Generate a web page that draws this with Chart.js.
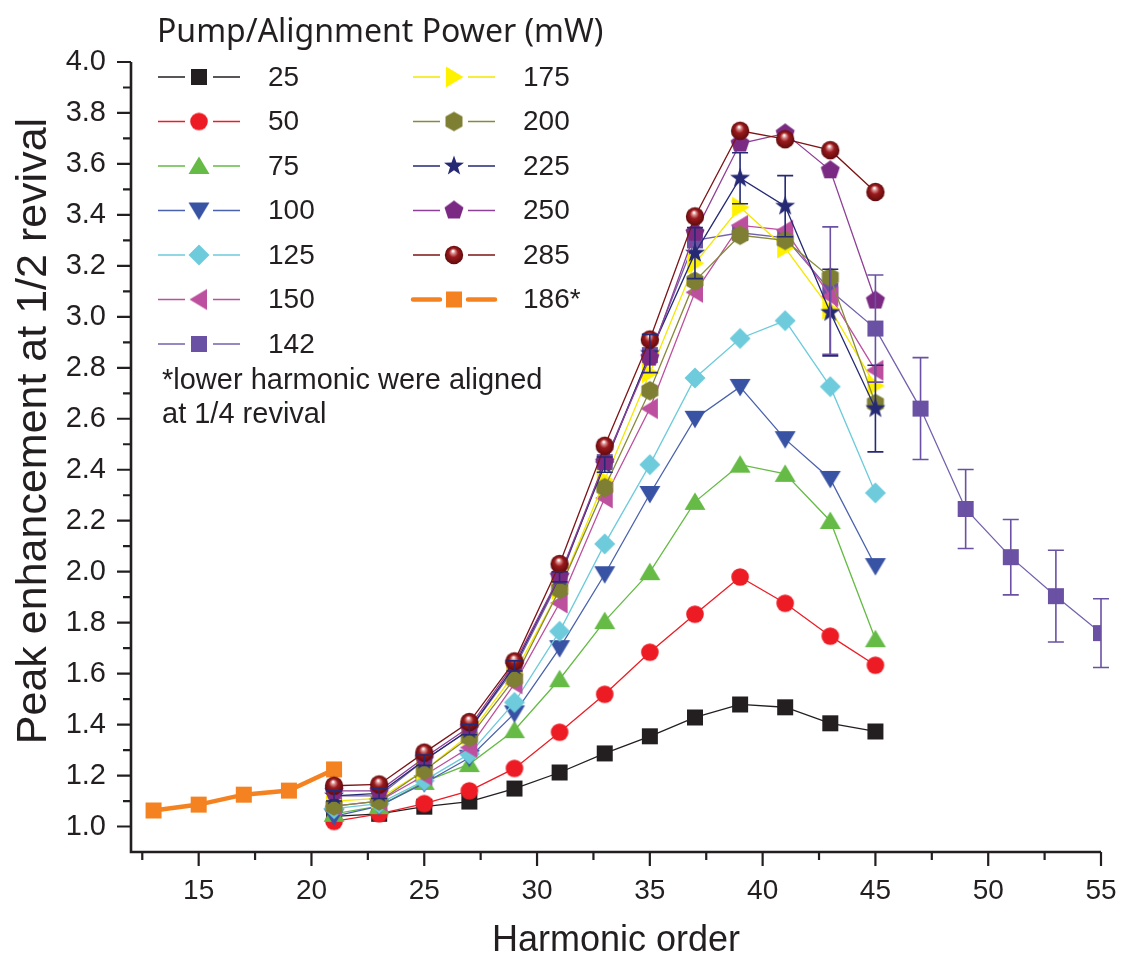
<!DOCTYPE html>
<html><head><meta charset="utf-8">
<script src="https://cdn.jsdelivr.net/npm/chart.js@4.4.1/dist/chart.umd.min.js"></script>
<style>html,body{margin:0;padding:0;background:#fff;}#wrap{width:1121px;height:959px;position:relative;}</style>
</head><body><div id="wrap"><canvas id="c" width="1121" height="959"></canvas></div>
<script>
// ---------- data ----------
const harmonics = [21,23,25,27,29,31,33,35,37,39,41,43,45];
const harmonics142 = [21,23,25,27,29,31,33,35,37,39,41,43,45,47,49,51,53,55];
const harmonics186 = [13,15,17,19,21];
const p25  = [1.04,1.05,1.078,1.098,1.149,1.212,1.287,1.354,1.428,1.479,1.468,1.405,1.373];
const p50  = [1.02,1.05,1.09,1.14,1.228,1.37,1.519,1.684,1.833,1.979,1.876,1.747,1.633];
const p75  = [1.05,1.08,1.175,1.245,1.378,1.578,1.806,1.998,2.274,2.42,2.384,2.199,1.735];
const p100 = [1.04,1.08,1.17,1.27,1.444,1.70,1.99,2.305,2.60,2.725,2.52,2.364,2.022];
const p125 = [1.07,1.09,1.18,1.285,1.487,1.766,2.109,2.42,2.76,2.915,2.985,2.726,2.309];
const p150 = [1.08,1.10,1.20,1.31,1.56,1.877,2.289,2.64,3.096,3.359,3.34,3.08,2.79];
const p142 = [1.12,1.12,1.26,1.38,1.62,1.97,2.43,2.85,3.30,3.33,3.31,3.103,2.954,2.64,2.246,2.057,1.904,1.759];
const p175 = [1.10,1.11,1.22,1.36,1.60,1.93,2.36,2.78,3.21,3.43,3.27,3.03,2.73];
const p200 = [1.08,1.10,1.22,1.35,1.58,1.93,2.33,2.71,3.14,3.32,3.30,3.155,2.66];
const p225 = [1.12,1.13,1.26,1.38,1.63,1.98,2.42,2.856,3.25,3.544,3.434,3.017,2.64];
const p250 = [1.14,1.14,1.27,1.39,1.64,1.983,2.43,2.84,3.33,3.68,3.72,3.575,3.064];
const p285 = [1.16,1.165,1.29,1.41,1.648,2.03,2.494,2.911,3.394,3.73,3.697,3.654,3.49];
const p186 = [1.063,1.086,1.125,1.141,1.224];
const err225 = [0.02,0.02,0.02,0.02,0.02,0.02,0.03,0.075,0.1,0.1,0.12,0.17,0.17];
const err142 = [0,0,0,0,0,0,0,0,0,0,0,0.25,0.21,0.2,0.155,0.148,0.18,0.135];
const xTickLabels = [15,20,25,30,35,40,45,50,55];
const yTickLabels = [1.0,1.2,1.4,1.6,1.8,2.0,2.2,2.4,2.6,2.8,3.0,3.2,3.4,3.6,3.8,4.0];
const legendTitle = 'Pump/Alignment Power (mW)';
const noteLines = ['*lower harmonic were aligned','at 1/4 revival'];
const xTitle = 'Harmonic order';
const yTitle = 'Peak enhancement at 1/2 revival';

// ---------- markers ----------
function poly(g, cx, cy, pts){ g.moveTo(cx+pts[0][0], cy+pts[0][1]); for(let i=1;i<pts.length;i++) g.lineTo(cx+pts[i][0], cy+pts[i][1]); g.closePath(); }
function regular(n, r, rot){ const a=[]; for(let k=0;k<n;k++){ const t=rot+k*2*Math.PI/n; a.push([r*Math.cos(t), r*Math.sin(t)]);} return a; }
function makeMarker(shape, fill){
  const S=26, c=document.createElement('canvas'); c.width=S; c.height=S;
  const g=c.getContext('2d'), cx=S/2, cy=S/2;
  g.fillStyle=fill; g.beginPath();
  switch(shape){
    case 'square': g.rect(cx-8,cy-8,16,16); break;
    case 'circle': g.arc(cx,cy,8.8,0,Math.PI*2); break;
    case 'up': poly(g,cx,cy,[[0,-9.5],[10.5,8],[-10.5,8]]); break;
    case 'down': poly(g,cx,cy,[[0,9.5],[10.5,-8],[-10.5,-8]]); break;
    case 'left': poly(g,cx,cy,[[-9.5,0],[8,-10.5],[8,10.5]]); break;
    case 'right': poly(g,cx,cy,[[9.5,0],[-8,-10.5],[-8,10.5]]); break;
    case 'diamond': poly(g,cx,cy,[[0,-10.5],[10.5,0],[0,10.5],[-10.5,0]]); break;
    case 'hexagon': poly(g,cx,cy,regular(6,9.8,-Math.PI/2)); break;
    case 'pentagon': poly(g,cx,cy,regular(5,10,-Math.PI/2)); break;
    case 'star': { const a=[]; for(let k=0;k<10;k++){ const r=k%2?4.2:10.5, t=-Math.PI/2+k*Math.PI/5; a.push([r*Math.cos(t), r*Math.sin(t)]);} poly(g,cx,cy,a); break; }
    case 'sphere': {
      const gr=g.createRadialGradient(cx-1,cy-4,0.5,cx,cy,9.5);
      gr.addColorStop(0,'#ffffff'); gr.addColorStop(0.18,'#d98a8a'); gr.addColorStop(0.45,'#9a1a1d'); gr.addColorStop(1,'#5e0a0c');
      g.fillStyle=gr; g.arc(cx,cy,9.2,0,Math.PI*2); break; }
  }
  g.fill();
  return c;
}

const series = [
  {label:'25',  xs:harmonics, ys:p25,  color:'#231f20', line:'#231f20', shape:'square', z:1},
  {label:'50',  xs:harmonics, ys:p50,  color:'#ed1c24', line:'#ed1c24', shape:'circle', z:2},
  {label:'75',  xs:harmonics, ys:p75,  color:'#65bb45', line:'#65bb45', shape:'up', z:3},
  {label:'100', xs:harmonics, ys:p100, color:'#3953a4', line:'#4a62ad', shape:'down', z:4},
  {label:'125', xs:harmonics, ys:p125, color:'#6dcbdc', line:'#6dcbdc', shape:'diamond', z:5},
  {label:'150', xs:harmonics, ys:p150, color:'#bd4f9f', line:'#bd4f9f', shape:'left', z:7},
  {label:'142', xs:harmonics142, ys:p142, color:'#6a51a3', line:'#7461ad', shape:'square', z:6},
  {label:'175', xs:harmonics, ys:p175, color:'#fff200', line:'#f5e800', shape:'right', z:8},
  {label:'200', xs:harmonics, ys:p200, color:'#7e7f33', line:'#878a3c', shape:'hexagon', z:9},
  {label:'225', xs:harmonics, ys:p225, color:'#262a74', line:'#262a74', shape:'star', z:10},
  {label:'250', xs:harmonics, ys:p250, color:'#7b2a83', line:'#8e3f96', shape:'pentagon', z:11},
  {label:'285', xs:harmonics, ys:p285, color:'#8a1a1c', line:'#7d1416', shape:'sphere', z:12},
  {label:'186*', xs:harmonics186, ys:p186, color:'#f58220', line:'#f58220', shape:'square', z:0, thick:true}
];
series.forEach(s => s.marker = makeMarker(s.shape, s.color));

const datasets = series.map(s => ({
  label: s.label,
  data: s.xs.map((x,i)=>({x:x, y:s.ys[i]})),
  borderColor: s.line,
  backgroundColor: s.color,
  borderWidth: s.thick ? 4.5 : 1.3,
  pointStyle: s.marker,
  pointRadius: 9,
  pointHoverRadius: 9,
  showLine: true,
  tension: 0,
  order: 20 - s.z
}));

const errorSets = [
  {xs:harmonics, ys:p225, err:err225, color:'#262a74'},
  {xs:harmonics142, ys:p142, err:err142, color:'#6a51a3'}
];

const FONT = "'Liberation Sans', Arial, Helvetica, sans-serif";
const INK = '#231f20';

const axesPlugin = {
  id:'axesPlugin',
  afterDraw(chart){
    const {ctx, chartArea:a, scales:{x,y}} = chart;
    ctx.save();
    ctx.strokeStyle=INK; ctx.lineCap='butt';
    ctx.lineWidth=2.6;
    ctx.beginPath(); ctx.moveTo(a.left, a.top); ctx.lineTo(a.left, a.bottom+1.3);
    ctx.moveTo(a.left-1.3, a.bottom); ctx.lineTo(a.right, a.bottom); ctx.stroke();
    ctx.lineWidth=2.2;
    ctx.beginPath();
    for(let k=10;k<=40;k++){ const v=k/10, py=y.getPixelForValue(v); const L = (k%2===0)?14:8; ctx.moveTo(a.left, py); ctx.lineTo(a.left-L, py); }
    for(let k=5;k<=22;k++){ const v=k*2.5, px=x.getPixelForValue(v); const L=(k%2===0)?14:8; ctx.moveTo(px, a.bottom); ctx.lineTo(px, a.bottom+L); }
    ctx.stroke();
    // y-axis title
    ctx.save();
    ctx.translate(34, 431); ctx.rotate(-Math.PI/2);
    ctx.fillStyle=INK; ctx.font = "43px " + FONT; ctx.textAlign='center'; ctx.textBaseline='middle';
    ctx.fillText(yTitle, 0, 0);
    ctx.restore();
    ctx.restore();
  }
};

const errorPlugin = {
  id:'errorPlugin',
  afterDatasetsDraw(chart){
    const {ctx, scales:{x,y}} = chart;
    ctx.save(); ctx.lineWidth=1.6;
    errorSets.forEach(es=>{
      ctx.strokeStyle=es.color; ctx.beginPath();
      es.xs.forEach((hx,i)=>{
        const e=es.err[i]; if(!e) return;
        const px=x.getPixelForValue(hx), t=y.getPixelForValue(es.ys[i]+e), b=y.getPixelForValue(es.ys[i]-e);
        ctx.moveTo(px,t); ctx.lineTo(px,b);
        ctx.moveTo(px-8,t); ctx.lineTo(px+8,t);
        ctx.moveTo(px-8,b); ctx.lineTo(px+8,b);
      });
      ctx.stroke();
    });
    ctx.restore();
  }
};

const legendPlugin = {
  id:'legendPlugin',
  afterDraw(chart){
    const ctx=chart.ctx;
    ctx.save();
    ctx.fillStyle=INK; ctx.textBaseline='alphabetic'; ctx.textAlign='left';
    ctx.font = "32px 'Noto Sans', 'Open Sans', sans-serif";
    ctx.fillText(legendTitle, 157, 42);
    const cols=[{cx:199, l1:[158,185], l2:[213,240], tx:268},{cx:454, l1:[413,440], l2:[468,495], tx:523}];
    const y0=77, dy=44.5;
    series.forEach((s,i)=>{
      const col = i<7 ? cols[0] : cols[1];
      const row = i<7 ? i : i-7;
      const cy = y0 + row*dy;
      ctx.strokeStyle=s.line; ctx.lineWidth = s.thick?4.5:1.3; ctx.lineCap = s.thick?'round':'butt';
      ctx.beginPath(); ctx.moveTo(col.l1[0],cy); ctx.lineTo(col.l1[1],cy); ctx.moveTo(col.l2[0],cy); ctx.lineTo(col.l2[1],cy); ctx.stroke();
      ctx.drawImage(s.marker, col.cx - s.marker.width/2, cy - s.marker.height/2);
      ctx.font = "28px " + FONT; ctx.textBaseline='middle';
      ctx.fillText(s.label, col.tx, cy+1);
    });
    ctx.textBaseline='alphabetic';
    ctx.font = "29px " + FONT;
    ctx.fillText(noteLines[0], 162, 389);
    ctx.fillText(noteLines[1], 162, 423);
    ctx.restore();
  }
};

new Chart(document.getElementById('c'), {
  type:'scatter',
  data:{datasets},
  plugins:[axesPlugin, errorPlugin, legendPlugin],
  options:{
    responsive:false, animation:false, devicePixelRatio:1,
    layout:{padding:{top:62, right:20, left:0, bottom:0}},
    plugins:{legend:{display:false}, tooltip:{enabled:false}},
    scales:{
      x:{type:'linear', min:12, max:55,
         afterBuildTicks: s=>{ s.ticks = xTickLabels.map(v=>({value:v})); },
         afterFit: s=>{ s.height=107; },
         grid:{display:true, drawOnChartArea:false, drawTicks:true, tickLength:22, color:'rgba(0,0,0,0)'}, border:{display:false},
         ticks:{padding:0, color:INK, font:{family:FONT, size:28}, maxRotation:0, autoSkip:false, callback:v=>String(v)},
         title:{display:true, text:xTitle, color:INK, font:{family:FONT, size:36, lineHeight:1}, padding:{top:0,bottom:0}}
      },
      y:{type:'linear', min:0.9, max:4.0,
         afterBuildTicks: s=>{ s.ticks = yTickLabels.map(v=>({value:v})); },
         afterFit: s=>{ s.width=131; },
         grid:{display:true, drawOnChartArea:false, drawTicks:true, tickLength:25, color:'rgba(0,0,0,0)'}, border:{display:false},
         ticks:{padding:0, color:INK, font:{family:FONT, size:29}, autoSkip:false, callback:v=>Number(v).toFixed(1)},
         title:{display:false, text:yTitle}
      }
    }
  }
});
</script></body></html>
